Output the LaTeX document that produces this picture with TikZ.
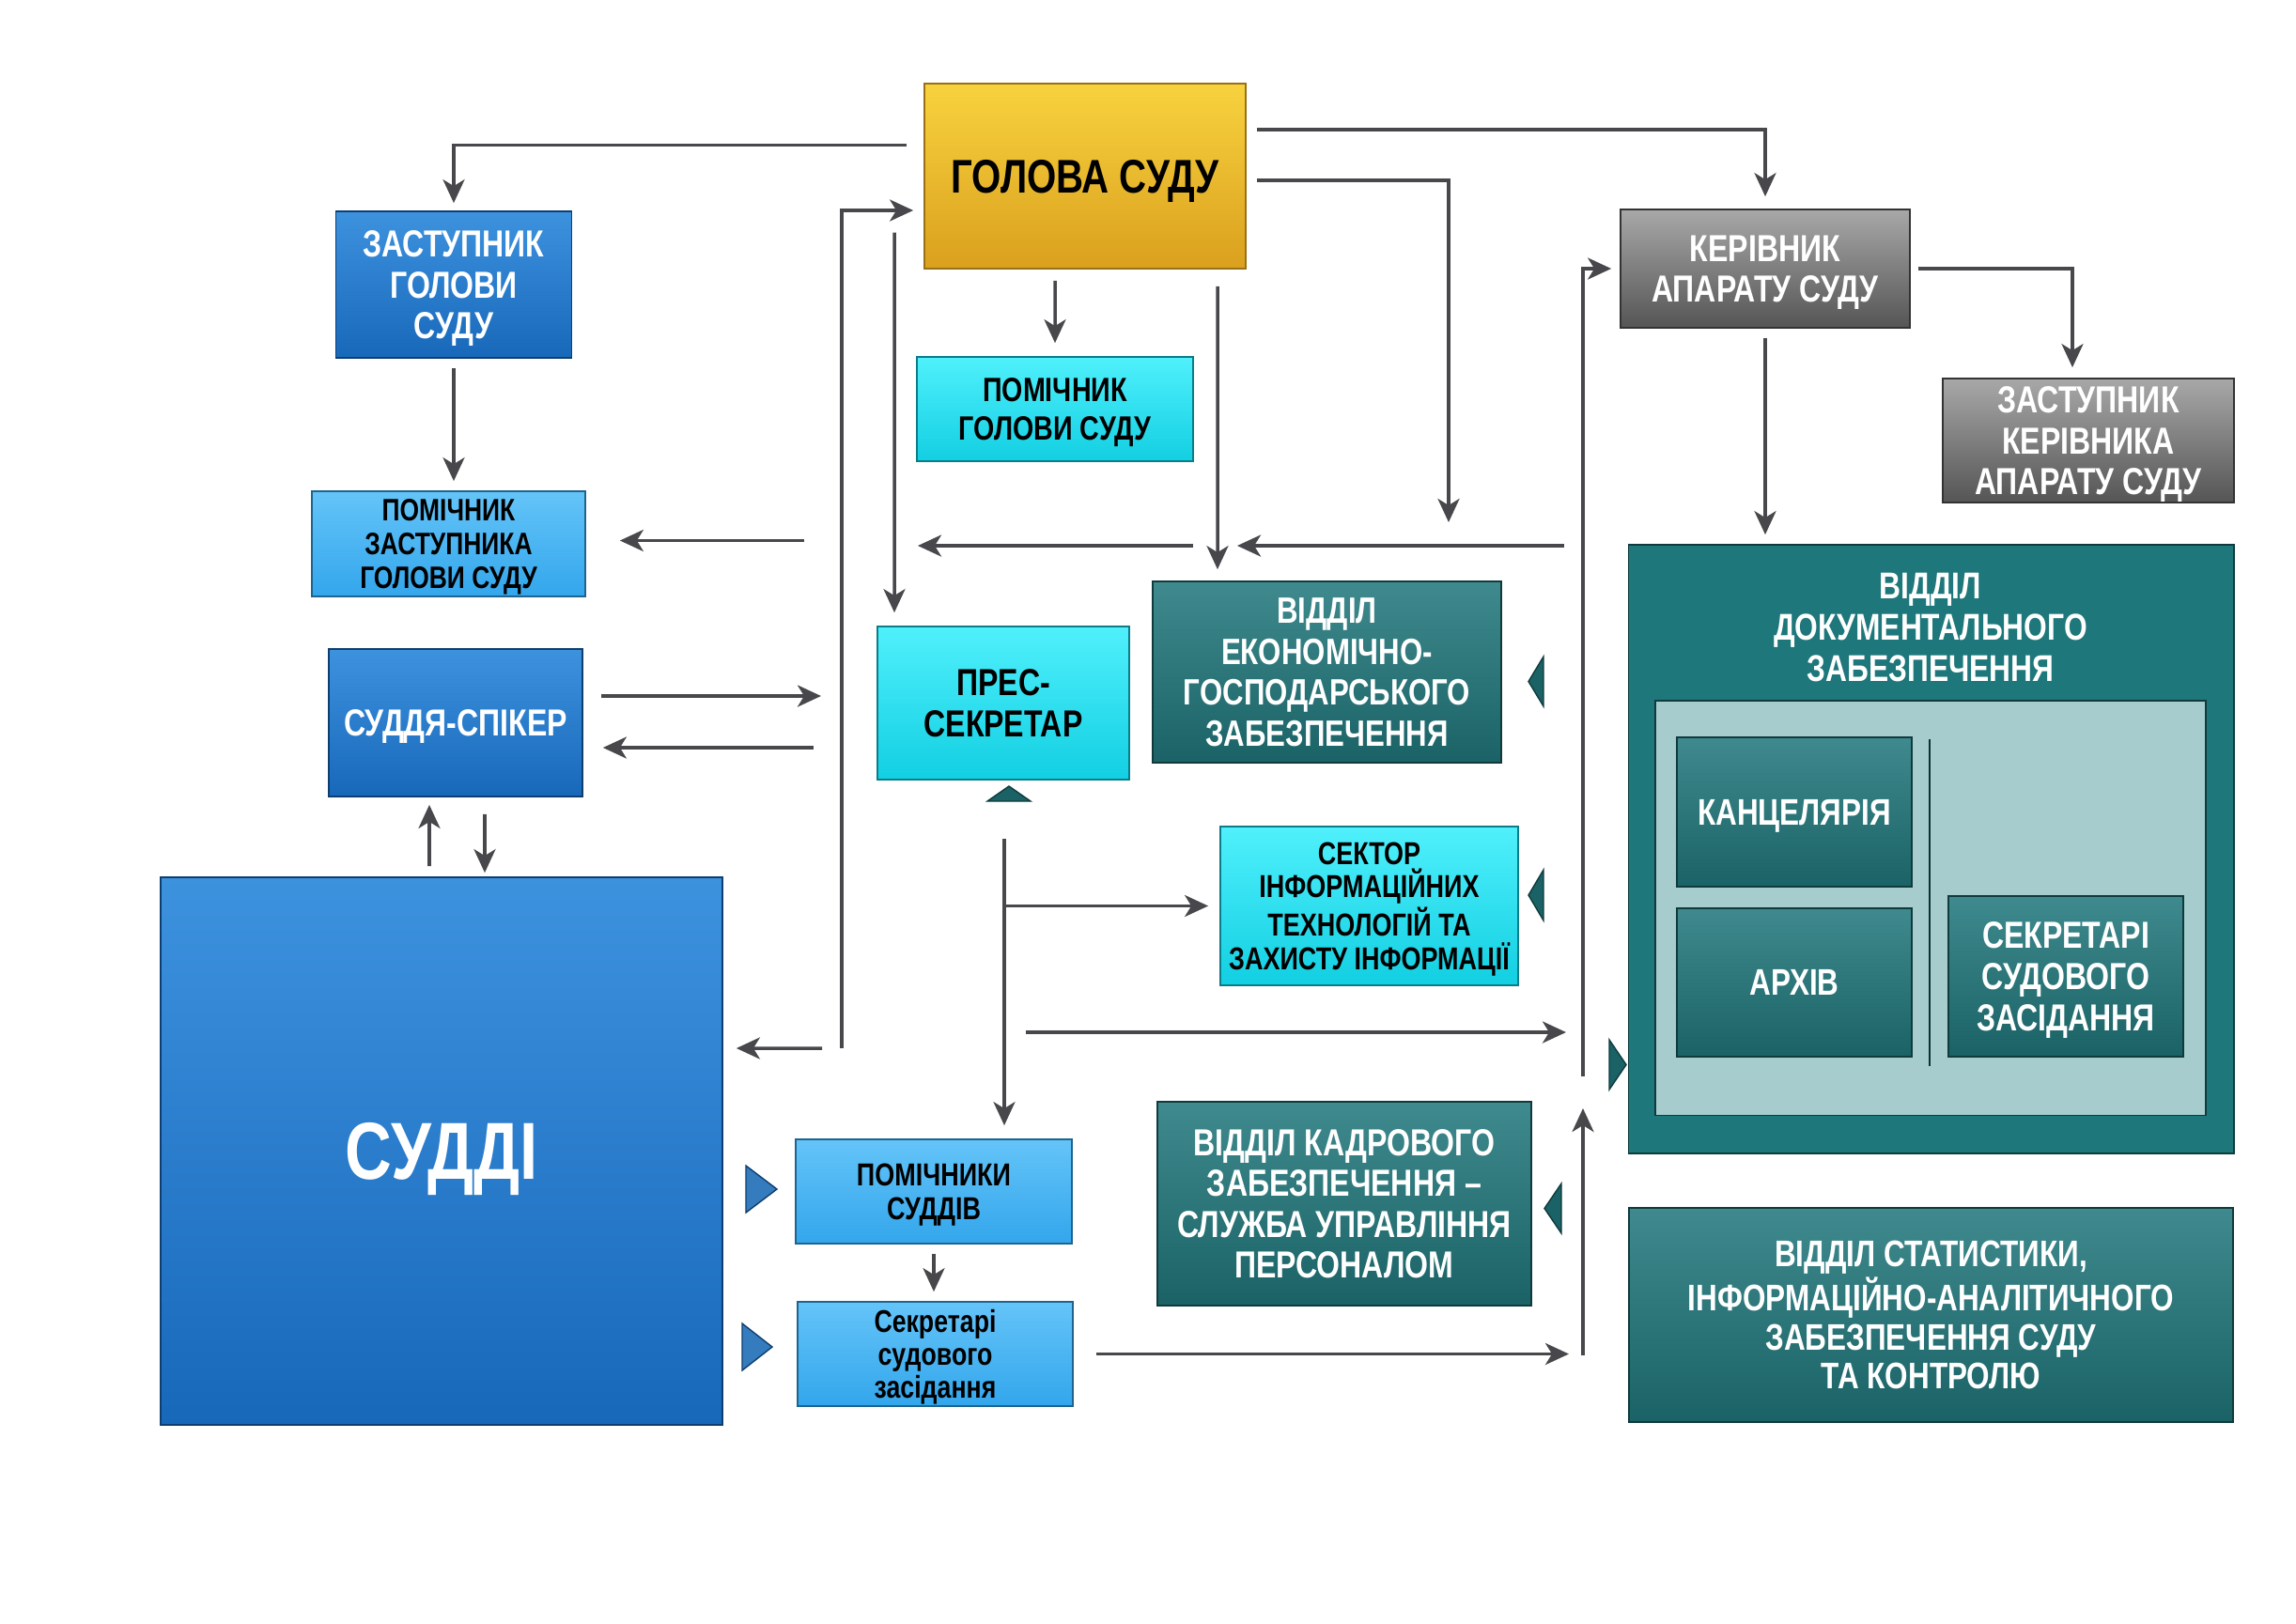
\documentclass[tikz,border=0pt]{standalone}
\usepackage{fontspec}
\setmainfont{Liberation Sans}[FakeStretch=0.8]
\usepackage{tikz}
\usetikzlibrary{arrows.meta}
\definecolor{LinkGray}{RGB}{72,72,76}
\definecolor{GoldTop}{RGB}{248,210,62}
\definecolor{GoldBot}{RGB}{218,160,30}
\definecolor{BlueTop}{RGB}{61,146,222}
\definecolor{BlueBot}{RGB}{24,104,186}
\definecolor{SkyTop}{RGB}{100,196,248}
\definecolor{SkyBot}{RGB}{51,166,236}
\definecolor{CyanTop}{RGB}{80,240,252}
\definecolor{CyanBot}{RGB}{18,207,226}
\definecolor{TealTop}{RGB}{63,138,142}
\definecolor{TealBot}{RGB}{26,98,102}
\definecolor{TealFlat}{RGB}{30,119,123}
\definecolor{TealPale}{RGB}{167,204,205}
\definecolor{GreyTop}{RGB}{168,168,168}
\definecolor{GreyBot}{RGB}{85,85,85}

\begin{document}
\begin{tikzpicture}[
    box/.style={rectangle, draw, line width=0.5pt, align=center, inner sep=1pt, text depth=0pt, font=\bfseries\fontsize{11.4}{12.4}\selectfont},
    goldbox/.style={box, top color=GoldTop, bottom color=GoldBot, draw=GoldBot!70!black, text=black},
    bluebox/.style={box, top color=BlueTop, bottom color=BlueBot, draw=BlueBot!60!black, text=white},
    skybox/.style={box, top color=SkyTop, bottom color=SkyBot, draw=SkyBot!60!black, text=black, font=\bfseries\fontsize{9.4}{10.3}\selectfont},
    cyanbox/.style={box, top color=CyanTop, bottom color=CyanBot, draw=CyanBot!60!black, text=black},
    tealbox/.style={box, top color=TealTop, bottom color=TealBot, draw=TealBot!60!black, text=white},
    greybox/.style={box, top color=GreyTop, bottom color=GreyBot, draw=GreyBot!60!black, text=white},
    link/.style={-{Stealth[length=2.5mm, width=2.3mm, inset=0.7mm]}, line width=1pt, LinkGray},
    tealtri/.style={fill=TealBot, draw=TealBot!60!black, line width=0.4pt},
    bluetri/.style={fill=BlueTop!85!black, draw=BlueBot!60!black, line width=0.4pt}
  ]
    \fill[white] (0,0) rectangle (24.44,-17.28);
    \useasboundingbox (0,0) rectangle (24.44,-17.28);

    % Голова та заступник
    \node[goldbox, minimum width=3.42cm, minimum height=1.97cm, font=\bfseries\fontsize{14.3}{15}\selectfont] (golova) at (11.55,-1.875) {ГОЛОВА СУДУ};
    \node[bluebox, minimum width=2.51cm, minimum height=1.56cm] (zast) at (4.83,-3.03) {ЗАСТУПНИК\\ГОЛОВИ\\СУДУ};
    \node[cyanbox, minimum width=2.94cm, minimum height=1.11cm, font=\bfseries\fontsize{10.2}{11.4}\selectfont] (pomgol) at (11.23,-4.355) {ПОМІЧНИК\\ГОЛОВИ СУДУ};
    \node[skybox, minimum width=2.91cm, minimum height=1.12cm] (pomzast) at (4.775,-5.79) {ПОМІЧНИК\\ЗАСТУПНИКА\\ГОЛОВИ СУДУ};

    % Судді
    \node[bluebox, minimum width=2.70cm, minimum height=1.57cm] (spiker) at (4.85,-7.695) {СУДДЯ-СПІКЕР};
    \node[bluebox, minimum width=5.98cm, minimum height=5.83cm, font=\bfseries\fontsize{24.5}{26}\selectfont] (suddi) at (4.70,-12.255) {СУДДІ};
    \node[skybox, minimum width=2.94cm, minimum height=1.11cm, font=\bfseries\fontsize{9.6}{10.3}\selectfont] (pomsud) at (9.94,-12.685) {ПОМІЧНИКИ\\СУДДІВ};
    \node[skybox, minimum width=2.93cm, minimum height=1.11cm, font=\bfseries\fontsize{9.5}{9.9}\selectfont] (sekr) at (9.955,-14.415) {Секретарі\\судового\\засідання};

    % Середня колонка
    \node[cyanbox, minimum width=2.68cm, minimum height=1.63cm] (pres) at (10.68,-7.485) {ПРЕС-\\СЕКРЕТАР};
    \node[tealbox, minimum width=3.71cm, minimum height=1.93cm, font=\bfseries\fontsize{11.1}{12.4}\selectfont] (ekon) at (14.125,-7.155) {ВІДДІЛ\\ЕКОНОМІЧНО-\\ГОСПОДАРСЬКОГО\\ЗАБЕЗПЕЧЕННЯ};
    \node[cyanbox, minimum width=3.17cm, minimum height=1.69cm, font=\bfseries\fontsize{9.6}{10.2}\selectfont] (sektor) at (14.575,-9.645) {СЕКТОР\\ІНФОРМАЦІЙНИХ\\ТЕХНОЛОГІЙ ТА\\ЗАХИСТУ ІНФОРМАЦІЇ};
    \node[tealbox, minimum width=3.98cm, minimum height=2.17cm] (kadr) at (14.31,-12.815) {ВІДДІЛ КАДРОВОГО\\ЗАБЕЗПЕЧЕННЯ –\\СЛУЖБА УПРАВЛІННЯ\\ПЕРСОНАЛОМ};

    % Апарат суду
    \node[greybox, minimum width=3.08cm, minimum height=1.26cm] (kerivnyk) at (18.79,-2.86) {КЕРІВНИК\\АПАРАТУ СУДУ};
    \node[greybox, minimum width=3.10cm, minimum height=1.32cm] (zastker) at (22.23,-4.69) {ЗАСТУПНИК\\КЕРІВНИКА\\АПАРАТУ СУДУ};
    \node[box, fill=TealFlat, draw=TealBot!60!black, minimum width=6.445cm, minimum height=6.48cm] (doc) at (20.5575,-9.04) {};
    \node[font=\bfseries\fontsize{11.3}{12.4}\selectfont, text=white, align=center] (doctitle) at (20.55,-6.68) {ВІДДІЛ\\ДОКУМЕНТАЛЬНОГО\\ЗАБЕЗПЕЧЕННЯ};
    \node[box, fill=TealPale, draw=TealBot!60!black, minimum width=5.86cm, minimum height=4.415cm] (panel) at (20.55,-9.6675) {};
    \node[tealbox, minimum width=2.50cm, minimum height=1.59cm, font=\bfseries\fontsize{11.2}{12.4}\selectfont] (kanc) at (19.10,-8.645) {КАНЦЕЛЯРІЯ};
    \node[tealbox, minimum width=2.50cm, minimum height=1.58cm, font=\bfseries\fontsize{11.2}{12.4}\selectfont] (arkhiv) at (19.10,-10.46) {АРХІВ};
    \node[tealbox, minimum width=2.50cm, minimum height=1.71cm] (sekrdoc) at (21.99,-10.395) {СЕКРЕТАРІ\\СУДОВОГО\\ЗАСІДАННЯ};
    \draw[TealBot!50!black, line width=0.8pt] (20.54,-7.87) -- (20.54,-11.35);
    \node[tealbox, minimum width=6.43cm, minimum height=2.28cm, font=\bfseries\fontsize{11.2}{11.8}\selectfont] (stat) at (20.555,-14.0) {ВІДДІЛ СТАТИСТИКИ,\\ІНФОРМАЦІЙНО-АНАЛІТИЧНОГО\\ЗАБЕЗПЕЧЕННЯ СУДУ\\ТА КОНТРОЛЮ};

    % Вільні кінці ліній
    \coordinate (drop) at (15.42,-5.56);
    \coordinate (ekonfrom) at (16.65,-5.81);
    \coordinate (ekonto) at (13.17,-5.81);
    \coordinate (presfrom) at (12.70,-5.81);
    \coordinate (presto) at (9.77,-5.81);
    \coordinate (pzfrom) at (8.56,-5.755);
    \coordinate (presdown) at (9.52,-2.475);
    \coordinate (feedup) at (8.96,-11.16);
    \coordinate (feedleft) at (8.75,-11.16);
    \coordinate (spkto) at (8.74,-7.41);
    \coordinate (spkfrom) at (8.66,-7.96);
    \coordinate (presdrop) at (10.69,-8.93);
    \coordinate (longfrom) at (10.92,-10.99);
    \coordinate (longto) at (16.67,-10.99);
    \coordinate (sekrto) at (16.70,-14.415);
    \coordinate (busbot) at (16.85,-14.43);
    \coordinate (busmid) at (16.85,-11.80);
    \coordinate (bustop) at (16.85,-11.46);

    % Від голови
    \draw[link, shorten <=1.8mm, shorten >=0.8mm] ([yshift=3.3mm]golova.west) -| (zast.north);
    \draw[link, shorten <=1.1mm, shorten >=1.3mm] ([yshift=4.95mm]golova.east) -| (kerivnyk.north);
    \draw[link, shorten <=1.1mm] ([yshift=-0.45mm]golova.east) -| (drop);
    \draw[link, shorten <=1.8mm, shorten >=1.2mm] ([xshift=14.1mm]golova.south) -- ([xshift=-11.65mm]ekon.north);
    \draw[link, shorten <=1.2mm, shorten >=1.4mm] ([xshift=-3.2mm]golova.south) -- (pomgol.north);
    \draw[link, shorten >=1.4mm] (presdown) -- ([xshift=-11.6mm]pres.north);
    \draw[link, shorten >=1.1mm] (feedup) |- ([yshift=-3.65mm]golova.west);
    \draw[link, shorten >=1.4mm] (feedleft) -- ([yshift=10.95mm]suddi.east);

    % Горизонтальні стрілки вліво
    \draw[link] (ekonfrom) -- (ekonto);
    \draw[link] (presfrom) -- (presto);
    \draw[link, shorten >=3.6mm] (pzfrom) -- (pzfrom -| pomzast.east);
    \draw[link, shorten <=1mm, shorten >=1mm] (zast.south) -- (zast.south |- pomzast.north);

    % Суддя-спікер
    \draw[link, shorten <=1.9mm] (spkto -| spiker.east) -- (spkto);
    \draw[link, shorten >=2.1mm] (spkfrom) -- (spkfrom -| spiker.east);
    \draw[link, shorten <=1.1mm, shorten >=0.8mm] ([xshift=-1.3mm]suddi.north) -- ([xshift=-2.8mm]spiker.south);
    \draw[link, shorten <=1.8mm, shorten >=0.4mm] ([xshift=3.1mm]spiker.south) -- ([xshift=4.6mm]suddi.north);

    % Прес-секретар вниз
    \draw[link, shorten >=1.4mm] (presdrop) -- (presdrop |- pomsud.north);
    \draw[link, shorten >=1.2mm] (presdrop |- sektor.west) -- (sektor.west);
    \draw[link] (longfrom) -- (longto);
    \draw[link, shorten <=1mm, shorten >=1mm] (pomsud.south) -- (pomsud.south |- sekr.north);
    \draw[link, shorten <=2.4mm] (sekr.east) -- (sekrto);

    % Права шина
    \draw[link] (busbot) -- (busmid);
    \draw[link, shorten >=0.9mm] (bustop) |- (kerivnyk.west);
    \draw[link, shorten <=0.8mm, shorten >=1.1mm] (kerivnyk.east) -| ([xshift=-1.7mm]zastker.north);
    \draw[link, shorten <=1mm, shorten >=1mm] (kerivnyk.south) -- (kerivnyk.south |- doc.north);

    % Трикутники
    \filldraw[tealtri] (10.51,-8.53) -- (10.97,-8.53) -- (10.74,-8.37) -- cycle;
    \filldraw[tealtri] (16.43,-6.99) -- (16.43,-7.52) -- (16.27,-7.255) -- cycle;
    \filldraw[tealtri] (16.43,-9.26) -- (16.43,-9.80) -- (16.27,-9.53) -- cycle;
    \filldraw[tealtri] (16.62,-12.60) -- (16.62,-13.13) -- (16.44,-12.865) -- cycle;
    \filldraw[tealtri] (17.13,-11.07) -- (17.13,-11.60) -- (17.31,-11.335) -- cycle;
    \filldraw[bluetri] (7.94,-12.41) -- (7.94,-12.91) -- (8.27,-12.66) -- cycle;
    \filldraw[bluetri] (7.90,-14.09) -- (7.90,-14.59) -- (8.22,-14.34) -- cycle;
  \end{tikzpicture}
\end{document}
